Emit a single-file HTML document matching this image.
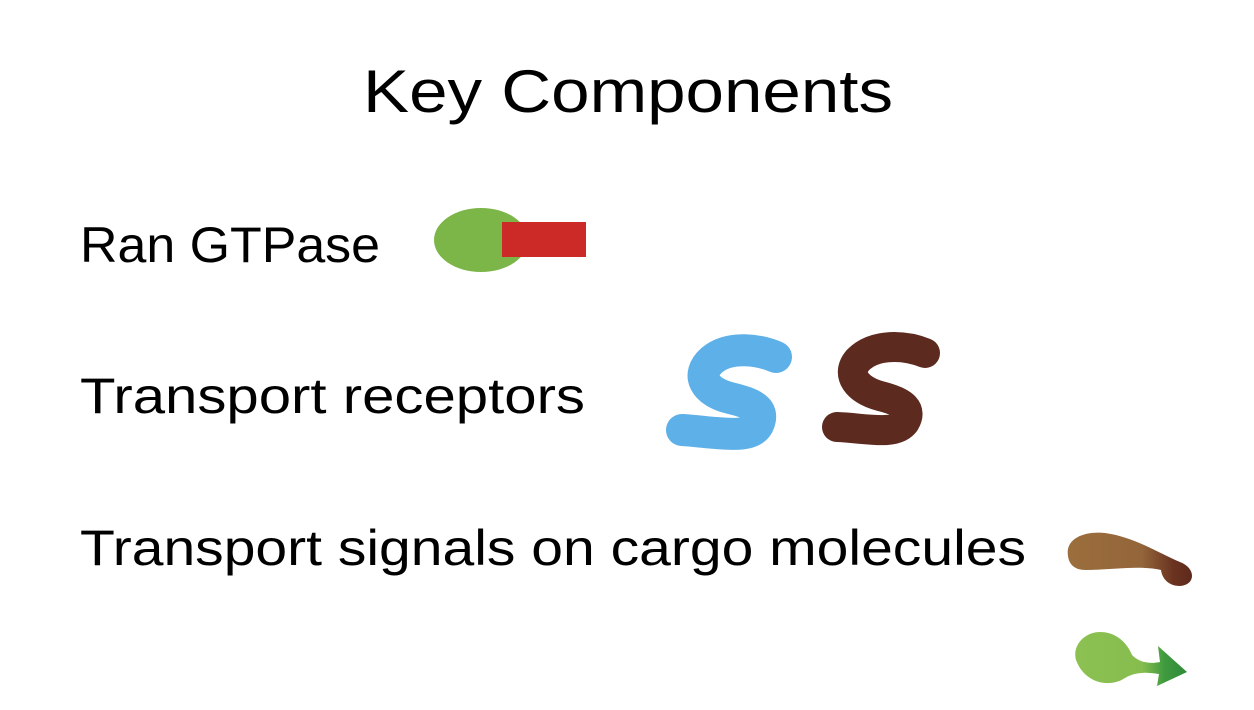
<!DOCTYPE html>
<html><head><meta charset="utf-8"><style>
html,body{margin:0;padding:0;background:#fff;width:1254px;height:710px;overflow:hidden}
text{font-family:"Liberation Sans",sans-serif;fill:#000}
</style></head><body>
<svg width="1254" height="710" viewBox="0 0 1254 710" xmlns="http://www.w3.org/2000/svg">
<defs>
<linearGradient id="br" x1="0" x2="1" y1="0" y2="0">
<stop offset="0" stop-color="#9b6e3d"/><stop offset="0.6" stop-color="#93653a"/><stop offset="0.85" stop-color="#6a3320"/><stop offset="1" stop-color="#5e2a1c"/></linearGradient>
<linearGradient id="gr" x1="0" x2="1" y1="0" y2="0">
<stop offset="0" stop-color="#8cc152"/><stop offset="0.6" stop-color="#86bd4e"/><stop offset="0.8" stop-color="#3f9a3f"/><stop offset="1" stop-color="#2f8a38"/></linearGradient>
</defs>
<text x="628" y="112" font-size="60" text-anchor="middle" textLength="530" lengthAdjust="spacingAndGlyphs">Key Components</text>
<text x="80" y="262" font-size="50" textLength="300" lengthAdjust="spacingAndGlyphs">Ran GTPase</text>
<text x="80" y="413" font-size="50" textLength="505" lengthAdjust="spacingAndGlyphs">Transport receptors</text>
<text x="80" y="565" font-size="50" textLength="946" lengthAdjust="spacingAndGlyphs">Transport signals on cargo molecules</text>
<ellipse cx="481" cy="240" rx="47" ry="32" fill="#7cb548"/>
<rect x="502" y="222" width="84" height="35" fill="#cc2a26"/>
<path d="M776,357 C760,350 730,345 712,360 C695,375 705,392 730,398 C755,404 765,410 758,425 C750,440 715,432 682,430" fill="none" stroke="#5eb0e8" stroke-width="32" stroke-linecap="round" stroke-linejoin="round"/>
<path d="M925,353 C905,345 875,343 858,360 C845,375 858,390 880,396 C905,402 912,410 905,422 C895,436 865,428 837,427" fill="none" stroke="#5c2a1e" stroke-width="30" stroke-linecap="round" stroke-linejoin="round"/>
<path d="M1068,556 C1065,538 1085,531 1105,533 C1135,537 1160,554 1180,562 C1196,568 1196,585 1180,586 C1168,586 1162,578 1161,570 C1140,565 1110,570 1086,570 C1074,570 1069,564 1068,556Z" fill="url(#br)"/>
<path d="M1076,660 C1072,645 1085,632 1100,632 C1118,632 1128,645 1132,655 C1140,663 1150,664 1160,662 L1158,646 L1187,672 L1157,686 L1159,674 C1145,672 1135,672 1125,678 C1110,688 1085,684 1076,660Z" fill="url(#gr)"/>
</svg>
</body></html>
